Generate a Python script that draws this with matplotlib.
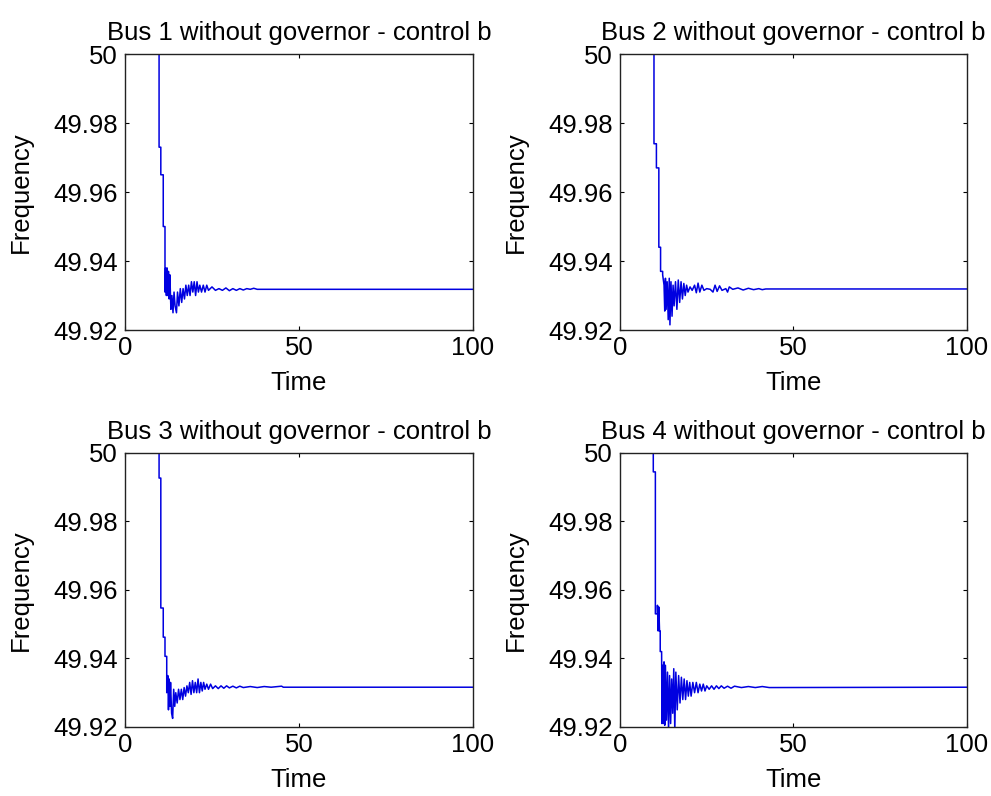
import matplotlib
matplotlib.use('Agg')
import matplotlib.pyplot as plt

# ## Data (time, frequency)
t1 = [0, 9.8, 9.8, 10.3, 10.3, 11.0, 11.0, 11.5, 11.5, 11.7, 11.9, 12.1, 12.3, 12.5, 12.7,
      12.9, 13.2, 13.5, 13.8, 14.1, 14.4, 14.8, 15.1, 15.5, 15.9, 16.3, 16.7, 17.1, 17.5,
      17.9, 18.3, 18.7, 19.1, 19.5, 19.9, 20.3, 20.7, 21.1, 21.5, 22.0, 22.5, 23.0, 23.5,
      24.0, 25, 26, 27, 28, 29, 30, 31, 32, 33, 34, 35, 36, 37, 38, 100]
f1 = [50.01, 50.01, 49.973, 49.973, 49.965, 49.965, 49.950, 49.950, 49.931, 49.938, 49.930,
      49.938, 49.930, 49.937, 49.929, 49.936, 49.926, 49.930, 49.925, 49.931, 49.927, 49.925,
      49.931, 49.927, 49.932, 49.928, 49.932, 49.929, 49.933, 49.930, 49.933, 49.930, 49.934,
      49.931, 49.934, 49.930, 49.934, 49.931, 49.933, 49.931, 49.933, 49.931, 49.933, 49.9315,
      49.9325, 49.9315, 49.932, 49.9315, 49.9322, 49.9314, 49.932, 49.9315, 49.932, 49.9316,
      49.932, 49.9318, 49.9321, 49.9318, 49.9318]

t2 = [0, 9.8, 9.8, 10.5, 10.5, 11.2, 11.2, 11.7, 11.7, 12.3, 12.3, 12.7, 12.9, 13.1, 13.3,
      13.6, 13.9, 14.2, 14.4, 14.7, 15.0, 15.3, 15.6, 16.0, 16.4, 16.8, 17.2, 17.6, 18.0,
      18.4, 18.8, 19.2, 19.6, 20.2, 20.8, 21.5, 22.0, 22.5, 23.0, 23.6, 24.2, 25, 26, 26.8,
      27.4, 28, 28.7, 29.4, 30.5, 31.0, 31.5, 32.5, 34, 35.5, 37, 38.5, 40, 41, 42, 100]
f2 = [50.01, 50.01, 49.974, 49.974, 49.967, 49.967, 49.944, 49.944, 49.937, 49.937, 49.936,
      49.933, 49.9255, 49.935, 49.926, 49.934, 49.923, 49.935, 49.9215, 49.934, 49.924,
      49.933, 49.927, 49.934, 49.926, 49.9345, 49.928, 49.934, 49.929, 49.9335, 49.930,
      49.933, 49.931, 49.9325, 49.9315, 49.933, 49.9308, 49.9336, 49.931, 49.933, 49.9315,
      49.932, 49.9318, 49.931, 49.933, 49.9312, 49.9328, 49.9315, 49.932, 49.931, 49.9325,
      49.9318, 49.9322, 49.9316, 49.9321, 49.9317, 49.932, 49.9317, 49.9319, 49.9319]

t3 = [0, 9.8, 9.8, 10.3, 10.3, 11.0, 11.0, 11.5, 11.5, 12.0, 12.0, 12.3, 12.5, 12.7, 12.9,
      13.1, 13.4, 13.7, 14.0, 14.3, 14.6, 15.0, 15.4, 15.8, 16.2, 16.6, 17.0, 17.4, 17.8,
      18.2, 18.6, 19.0, 19.4, 19.8, 20.2, 20.6, 21.0, 21.4, 21.8, 22.2, 22.6, 23.0, 23.5,
      24, 24.6, 25.2, 26, 26.8, 27.6, 28.4, 29.2, 30, 31, 32, 33, 34, 36, 38, 40, 42, 45,
      45.5, 100]
f3 = [50.01, 50.01, 49.9926, 49.9926, 49.9547, 49.9547, 49.9462, 49.9462, 49.9406, 49.9406,
      49.930, 49.935, 49.925, 49.934, 49.926, 49.933, 49.924, 49.9225, 49.931, 49.926, 49.930,
      49.927, 49.931, 49.928, 49.931, 49.928, 49.9315, 49.929, 49.932, 49.930, 49.933,
      49.9295, 49.9335, 49.930, 49.933, 49.930, 49.934, 49.930, 49.933, 49.9305, 49.933,
      49.931, 49.9325, 49.931, 49.9325, 49.9312, 49.932, 49.9312, 49.932, 49.9313, 49.932,
      49.9314, 49.9319, 49.9314, 49.9319, 49.9315, 49.9318, 49.9315, 49.9318, 49.9316,
      49.9319, 49.9316, 49.9316]

t4 = [0, 9.6, 9.6, 10.2, 10.2, 10.8, 10.8, 11.0, 11.2, 11.4, 11.6, 11.6, 12.0, 12.1, 12.3,
      12.5, 12.7, 12.9, 13.1, 13.4, 13.7, 14.0, 14.3, 14.6, 14.9, 15.2, 15.5, 15.8, 16.1,
      16.5, 16.9, 17.3, 17.7, 18.1, 18.5, 18.9, 19.3, 19.7, 20.1, 20.5, 21.0, 21.5, 22.0,
      22.5, 23, 23.5, 24, 24.5, 25, 25.7, 26.4, 27.1, 27.8, 28.5, 29.2, 30, 31, 32, 33, 35,
      37, 39, 41, 43, 100]
f4 = [50.01, 50.01, 49.9944, 49.9944, 49.953, 49.953, 49.9555, 49.948, 49.955, 49.948,
      49.948, 49.942, 49.942, 49.921, 49.938, 49.921, 49.939, 49.9205, 49.938, 49.922,
      49.936, 49.919, 49.935, 49.921, 49.934, 49.924, 49.937, 49.919, 49.936, 49.925,
      49.935, 49.927, 49.9345, 49.928, 49.934, 49.928, 49.9335, 49.929, 49.933, 49.929,
      49.933, 49.930, 49.933, 49.930, 49.9325, 49.9305, 49.9325, 49.9305, 49.932, 49.931,
      49.932, 49.931, 49.932, 49.9312, 49.932, 49.9313, 49.9319, 49.9313, 49.9319, 49.9315,
      49.9318, 49.9315, 49.9318, 49.9315, 49.9316]

titles = ['Bus 1 without governor - control b', 'Bus 2 without governor - control b',
          'Bus 3 without governor - control b', 'Bus 4 without governor - control b']
yticks = [49.92, 49.94, 49.96, 49.98, 50]
ylabels = ['49.92', '49.94', '49.96', '49.98', '50']
xticks = [0, 50, 100]

plt.rcParams['font.family'] = ['Liberation Sans', 'DejaVu Sans']
fs = 18.5

fig = plt.figure(figsize=(9.91, 7.96), dpi=100)
pos = [[0.1261, 0.5854, 0.3512, 0.3467], [0.6256, 0.5854, 0.3502, 0.3467],
       [0.1261, 0.0867, 0.3512, 0.3446], [0.6256, 0.0867, 0.3502, 0.3446]]

for p, t, f, ttl in zip(pos, [t1, t2, t3, t4], [f1, f2, f3, f4], titles):
    ax = fig.add_axes(p)
    ax.plot(t, f, color='#0000e0', lw=1.1)
    ax.set_xlim(0, 100)
    ax.set_ylim(49.92, 50)
    ax.set_xticks(xticks)
    ax.set_xticklabels([str(x) for x in xticks], fontsize=fs)
    ax.set_yticks(yticks)
    ax.set_yticklabels(ylabels, fontsize=fs)
    ax.tick_params(direction='in', length=3, top=True, right=True, width=0.8)
    ax.tick_params(axis='x', pad=4.5)
    ax.tick_params(axis='y', pad=5)
    ax.set_title(ttl, fontsize=fs, pad=10)
    ax.set_xlabel('Time', fontsize=fs)
    ax.set_ylabel('Frequency', fontsize=fs)
    ax.xaxis.set_label_coords(0.5, -0.15)
    ax.yaxis.set_label_coords(-0.264, 0.5)
    for s in ax.spines.values():
        s.set_linewidth(1.0)
        s.set_color('#222222')

plt.savefig('out.png', dpi=100)
plt.close()
